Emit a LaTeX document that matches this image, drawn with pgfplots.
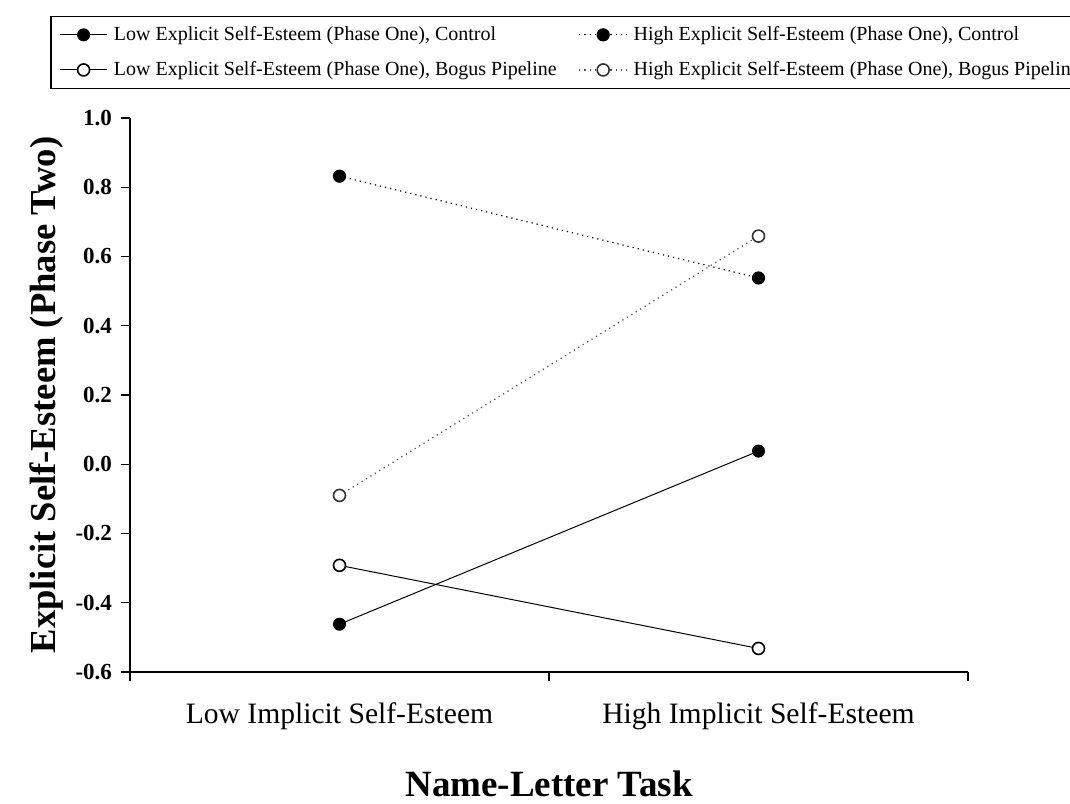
\documentclass[border=0pt]{standalone}
\usepackage{pgfplots}
\pgfplotsset{compat=1.18}
\usepackage{fontspec}
\setmainfont{Liberation Serif}
\begin{document}
\begin{tikzpicture}
\begin{axis}[
  name=ax,
  scale only axis,
  width=419pt, height=277pt,
  xmin=0, xmax=4,
  ymin=-0.6, ymax=1.0,
  axis lines*=left,
  axis line style={line width=0.8pt},
  xtick={0,2,4},
  xticklabels={},
  extra x ticks={1,3},
  extra x tick labels={Low Implicit Self-Esteem, High Implicit Self-Esteem},
  extra x tick style={major tick length=0pt, tick label style={font=\fontsize{14.8}{17}\selectfont, yshift=-12pt}},
  ytick={-0.6,-0.4,-0.2,0,0.2,0.4,0.6,0.8,1.0},
  yticklabel style={/pgf/number format/fixed, /pgf/number format/precision=1, /pgf/number format/fixed zerofill, font=\fontsize{11.5}{13}\selectfont\bfseries, xshift=-1pt},
  /pgf/number format/assume math mode=true,
  tick align=outside,
  major tick length=4.5pt,
  tick style={line width=0.6pt, black},
  xlabel={\fontsize{18.5}{21}\selectfont\bfseries Name-Letter Task},
  xlabel style={yshift=-9pt},
  ylabel={\fontsize{18.3}{21}\selectfont\bfseries Explicit Self-Esteem (Phase Two)},
  ylabel style={yshift=-1pt},
  clip=false,
  legend columns=2,
  legend image code/.code={\draw[mark repeat=2, mark phase=2] plot coordinates {(0cm,0cm) (0.42cm,0cm) (0.84cm,0cm)};},
  legend style={at={(-0.095,1.185)}, anchor=north west, draw=black, line width=0.8pt,
    font=\fontsize{10}{12}\selectfont, column sep=2pt, row sep=7pt,
    inner xsep=4pt, inner ysep=4pt,
    nodes={inner sep=1pt},
    /tikz/every even column/.append style={column sep=10pt}},
  legend cell align=left,
]
\addplot[black, line width=0.5pt, mark=*, mark size=3pt, mark options={solid, fill=black}] coordinates {(1,-0.462) (3,0.038)};
\addlegendentry{Low Explicit Self-Esteem (Phase One), Control}
\addplot[black, line width=0.6pt, dotted, mark=*, mark size=3pt, mark options={solid, fill=black}] coordinates {(1,0.832) (3,0.538)};
\addlegendentry{High Explicit Self-Esteem (Phase One), Control}
\addplot[black, line width=0.5pt, mark=*, mark size=3pt, mark options={solid, fill=white, line width=0.8pt}] coordinates {(1,-0.292) (3,-0.532)};
\addlegendentry{Low Explicit Self-Esteem (Phase One), Bogus Pipeline}
\addplot[black!70, line width=0.6pt, dotted, mark=*, mark size=3pt, mark options={solid, draw=black!80, fill=white, line width=0.8pt}] coordinates {(1,-0.090) (3,0.659)};
\addlegendentry{High Explicit Self-Esteem (Phase One), Bogus Pipeline}
\end{axis}
\pgfresetboundingbox
\path ([shift={(-65pt,-65.5pt)}]ax.south west) rectangle ([shift={(470pt,336pt)}]ax.south west);
\end{tikzpicture}
\end{document}
